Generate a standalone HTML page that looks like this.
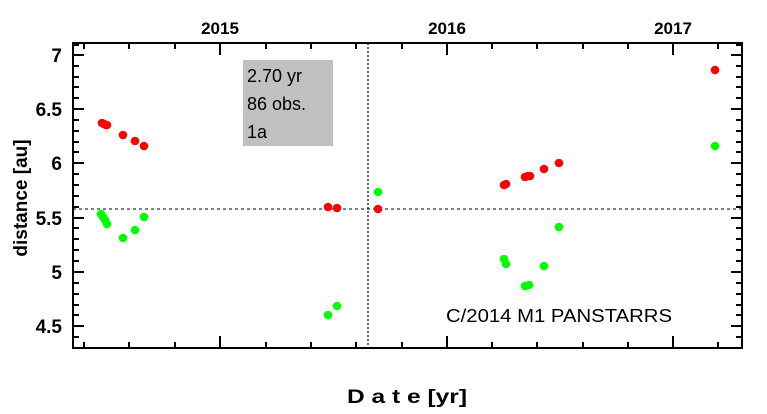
<!DOCTYPE html>
<html><head><meta charset="utf-8"><style>
html,body{margin:0;padding:0;background:#fff;}
svg{display:block;}
text{font-family:"Liberation Sans",sans-serif;fill:#000;}
</style></head><body>
<svg width="767" height="414" viewBox="0 0 767 414" xmlns="http://www.w3.org/2000/svg">
<rect x="243" y="60" width="90" height="86" fill="#c0c0c0"/>
<g font-size="18">
<text x="247" y="82">2.70 yr</text>
<text x="247" y="110">86 obs.</text>
<text x="247" y="138">1a</text>
</g>
<line x1="73" y1="209" x2="742" y2="209" stroke="#000" stroke-width="1" stroke-dasharray="3,3"/>
<line x1="368" y1="43" x2="368" y2="348" stroke="#000" stroke-width="1.2" stroke-dasharray="2,2"/>
<g stroke="#000" stroke-width="2" fill="none">
<path d="M73,55h11M73,109h11M73,163h11M73,218h11M73,272h11M73,326h11
M742,55h-11M742,109h-11M742,163h-11M742,218h-11M742,272h-11M742,326h-11
M73,66h6M73,77h6M73,87h6M73,98h6M73,120h6M73,131h6M73,142h6M73,152h6M73,174h6M73,185h6M73,196h6M73,207h6M73,228h6M73,239h6M73,250h6M73,261h6M73,283h6M73,294h6M73,305h6M73,315h6M73,337h6M73,45h6
M742,66h-6M742,77h-6M742,87h-6M742,98h-6M742,120h-6M742,131h-6M742,142h-6M742,152h-6M742,174h-6M742,185h-6M742,196h-6M742,207h-6M742,228h-6M742,239h-6M742,250h-6M742,261h-6M742,283h-6M742,294h-6M742,305h-6M742,315h-6M742,337h-6M742,45h-6
M220,43v12M447,43v12M673,43v12M220,348v-12M447,348v-12M673,348v-12
M84,43v6M129,43v6M175,43v6M266,43v6M311,43v6M356,43v6M402,43v6M492,43v6M537,43v6M583,43v6M628,43v6M718,43v6
M84,348v-6M129,348v-6M175,348v-6M266,348v-6M311,348v-6M356,348v-6M402,348v-6M492,348v-6M537,348v-6M583,348v-6M628,348v-6M718,348v-6"/>
<rect x="73" y="43" width="669" height="305" stroke-width="2"/>
</g>
<g font-size="19" font-weight="bold" text-anchor="end">
<text x="62" y="62">7</text>
<text x="62" y="116">6.5</text>
<text x="62" y="170">6</text>
<text x="62" y="225">5.5</text>
<text x="62" y="279">5</text>
<text x="62" y="333">4.5</text>
</g>
<g font-size="17" font-weight="bold" text-anchor="middle">
<text x="220" y="34">2015</text>
<text x="447" y="34">2016</text>
<text x="673" y="34">2017</text>
</g>
<text transform="translate(27,198) rotate(-90)" font-size="19" font-weight="bold" text-anchor="middle">distance [au]</text>
<text x="347" y="403" font-size="19" font-weight="bold" font-family="Liberation Mono" textLength="120" lengthAdjust="spacingAndGlyphs">D a t e [yr]</text>
<text x="446" y="322" font-size="18" textLength="226" lengthAdjust="spacingAndGlyphs">C/2014 M1 PANSTARRS</text>
<g fill="#ff0000">
<circle cx="102" cy="123" r="4.3"/><circle cx="104" cy="124" r="4.3"/><circle cx="106" cy="125" r="4.3"/><circle cx="107" cy="125" r="4.3"/>
<circle cx="123" cy="135" r="4.3"/><circle cx="135" cy="141" r="4.3"/><circle cx="144" cy="146" r="4.3"/>
<circle cx="328" cy="207" r="4.3"/><circle cx="337" cy="208" r="4.3"/><circle cx="378" cy="209" r="4.3"/>
<circle cx="504" cy="185" r="4.3"/><circle cx="506" cy="184" r="4.3"/><circle cx="525" cy="177" r="4.3"/><circle cx="528" cy="176" r="4.3"/><circle cx="530" cy="176" r="4.3"/>
<circle cx="544" cy="169" r="4.3"/><circle cx="559" cy="163" r="4.3"/><circle cx="715" cy="70" r="4.3"/>
</g>
<g fill="#00ff00">
<circle cx="101" cy="214" r="4.3"/><circle cx="103" cy="217" r="4.3"/><circle cx="105" cy="220" r="4.3"/><circle cx="107" cy="224" r="4.3"/>
<circle cx="123" cy="238" r="4.3"/><circle cx="135" cy="230" r="4.3"/><circle cx="144" cy="217" r="4.3"/>
<circle cx="328" cy="315" r="4.3"/><circle cx="337" cy="306" r="4.3"/><circle cx="378" cy="192" r="4.3"/>
<circle cx="504" cy="259" r="4.3"/><circle cx="506" cy="264" r="4.3"/><circle cx="525" cy="286" r="4.3"/><circle cx="529" cy="285" r="4.3"/>
<circle cx="544" cy="266" r="4.3"/><circle cx="559" cy="227" r="4.3"/><circle cx="715" cy="146" r="4.3"/>
</g>
</svg>
</body></html>
